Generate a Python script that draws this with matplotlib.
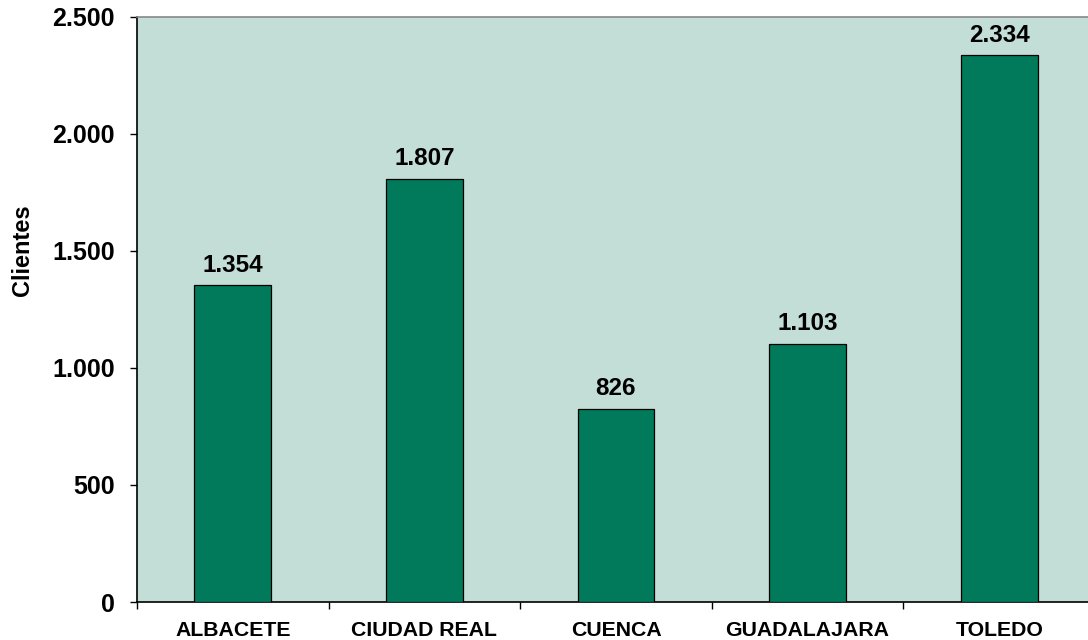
import matplotlib

matplotlib.use("Agg")
import matplotlib.pyplot as plt
import numpy as np
from matplotlib.ticker import FuncFormatter

plt.rcParams["font.family"] = ["Liberation Sans", "DejaVu Sans"]
plt.rcParams["font.weight"] = "bold"

provincias = ["ALBACETE", "CIUDAD REAL", "CUENCA", "GUADALAJARA", "TOLEDO"]
clientes = [1354, 1807, 826, 1103, 2334]

BG = "#C3DED6"
BAR = "#007A5A"


def miles(v, _pos=None):
    return f"{int(v):,}".replace(",", ".")


fig = plt.figure(figsize=(10.88, 6.4), dpi=100)
ax = fig.add_axes([137 / 1088, 1 - 602 / 640, (1095 - 137) / 1088, (602 - 16.5) / 640])
ax.set_facecolor(BG)

xs = np.arange(len(provincias))
ax.bar(xs, clientes, width=0.4, color=BAR, edgecolor="black", linewidth=0.9, zorder=3)
for x, v in zip(xs, clientes):
    ax.annotate(miles(v), (x, v), xytext=(0, 6), textcoords="offset points",
                ha="center", va="bottom", fontsize=17.5, fontweight="bold")

ax.set_xlim(-0.5, len(provincias) - 0.5)
ax.set_ylim(0, 2500)
ax.set_yticks(np.arange(0, 2501, 500))
ax.yaxis.set_major_formatter(FuncFormatter(miles))
ax.tick_params(axis="y", labelsize=18, length=5, width=1, direction="out", pad=11)

ax.set_xticks(xs)
ax.set_xticklabels(provincias, fontsize=15.3, fontweight="bold")
ax.set_xticks(np.arange(-0.5, len(provincias)), minor=True)
ax.tick_params(axis="x", which="major", length=0, pad=14)
ax.tick_params(axis="x", which="minor", length=5, width=1, direction="out")

ax.set_ylabel("Clientes", fontsize=17, fontweight="bold")
ax.yaxis.set_label_coords(-0.108, (602 - 250) / 585.5)

for s in ("left", "bottom"):
    ax.spines[s].set_color("black")
    ax.spines[s].set_linewidth(1.2)
ax.spines["top"].set_color("#888888")
ax.spines["top"].set_linewidth(1.2)
ax.spines["right"].set_visible(False)

fig.savefig("out.png", dpi=100)
